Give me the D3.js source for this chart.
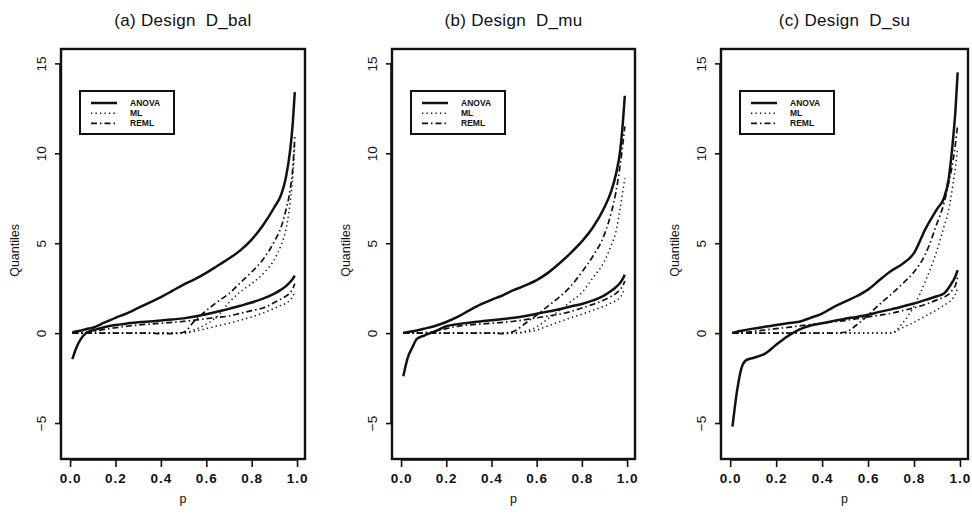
<!DOCTYPE html>
<html><head><meta charset="utf-8">
<script src="https://cdn.jsdelivr.net/npm/d3@7"></script>
<style>
html,body{margin:0;padding:0;background:#fff;}
svg{display:block;font-family:"Liberation Sans",Arial,Helvetica,sans-serif;}
.ttl{white-space:pre;}
</style></head>
<body>
<svg id="chart" width="972" height="515"></svg>
<script>
// Probability grid (x values)
const P = [0.01,0.03,0.05,0.07,0.1,0.15,0.2,0.25,0.3,0.35,0.4,0.45,0.5,0.55,0.6,0.65,0.7,0.75,0.8,0.85,0.9,0.93,0.95,0.97,0.98,0.99];

const titles = ["(a) Design  D_bal", "(b) Design  D_mu", "(c) Design  D_su"];
const seriesNames = ["ANOVA", "ML", "REML"];
const xTicks = [0.0, 0.2, 0.4, 0.6, 0.8, 1.0];
const yTicks = [-5, 0, 5, 10, 15];

// Panel (a) D_bal
const a_ANOVA_hi = [0.05,0.1,0.15,0.22,0.3,0.58,0.85,1.1,1.4,1.7,2.0,2.35,2.7,3.0,3.35,3.75,4.15,4.6,5.2,6.0,7.0,7.7,8.6,10.2,11.5,13.4];
const a_ANOVA_lo = [-1.45,-0.75,-0.28,0.0,0.15,0.33,0.45,0.53,0.6,0.65,0.7,0.76,0.82,0.92,1.05,1.2,1.35,1.52,1.7,1.92,2.2,2.42,2.6,2.85,3.0,3.2];
const a_ML_hi    = [0,0,0,0,0,0,0,0,0,0,0,0,0,0.2,0.5,0.95,1.7,2.3,2.75,3.3,4.1,4.9,5.7,7.3,8.5,10.6];
const a_ML_lo    = [0,0,0,0,0,0,0,0,0,0,0,0,0,0.1,0.25,0.4,0.55,0.72,0.9,1.12,1.38,1.55,1.65,1.85,2.0,2.3];
const a_REML_hi  = [0,0,0,0,0,0,0,0,0,0,-0.03,-0.03,0.05,0.7,1.25,1.75,2.2,2.8,3.4,4.1,5.1,5.9,6.8,8.0,9.0,10.9];
const a_REML_lo  = [0,0,0.02,0.05,0.1,0.2,0.3,0.38,0.45,0.5,0.55,0.6,0.65,0.72,0.8,0.88,0.95,1.1,1.25,1.4,1.7,1.9,2.05,2.25,2.45,2.75];

// Panel (b) D_mu
const b_ANOVA_hi = [0.02,0.06,0.1,0.15,0.24,0.4,0.62,0.9,1.25,1.58,1.85,2.1,2.4,2.65,2.95,3.35,3.87,4.45,5.1,5.9,7.0,7.9,8.8,10.2,11.5,13.2];
const b_ANOVA_lo = [-2.4,-1.35,-0.8,-0.32,-0.15,0.1,0.38,0.5,0.58,0.65,0.72,0.78,0.85,0.95,1.08,1.2,1.33,1.48,1.62,1.82,2.1,2.35,2.55,2.8,3.0,3.25];
const b_ML_hi    = [0,0,0,0,0,0,0,0,0,0,0,0,0,0.1,0.35,0.8,1.25,1.75,2.25,3.1,4.0,4.9,5.6,7.0,7.8,8.6];
const b_ML_lo    = [0,0,0,0,0,0,0,0,0,0,0,0,0,0.05,0.17,0.4,0.63,0.85,1.05,1.28,1.5,1.68,1.8,2.0,2.2,2.5];
const b_REML_hi  = [0,0,0,0,0,0,0,0,0,0,0,-0.03,0.1,0.55,1.0,1.5,2.0,2.6,3.4,4.3,5.5,6.7,7.8,9.4,10.4,11.5];
const b_REML_lo  = [0,0,0,0,0.02,0.1,0.25,0.38,0.45,0.5,0.55,0.6,0.66,0.75,0.85,0.95,1.05,1.2,1.4,1.6,1.85,2.05,2.2,2.45,2.6,2.9];

// Panel (c) D_su
const c_ANOVA_hi = [0.02,0.08,0.13,0.18,0.25,0.35,0.45,0.55,0.63,0.85,1.09,1.45,1.75,2.05,2.42,2.95,3.45,3.85,4.45,5.8,6.9,7.5,8.5,10.8,12.3,14.5];
const c_ANOVA_lo = [-5.2,-3.2,-1.9,-1.5,-1.38,-1.15,-0.65,-0.17,0.2,0.42,0.55,0.68,0.8,0.9,1.02,1.18,1.32,1.48,1.65,1.85,2.05,2.2,2.5,2.9,3.15,3.5];
const c_ML_hi    = [0,0,0,0,0,0,0,0,0,0,0,0,0,0,0,0,0,0.55,1.5,2.9,4.6,5.9,6.8,8.3,9.2,10.3];
const c_ML_lo    = [0,0,0,0,0,0,0,0,0,0,0,0,0,0,0,0,0,0.3,0.6,0.95,1.3,1.55,1.7,1.95,2.15,2.5];
const c_REML_hi  = [0,0,0,0,0,0,0,0,0,0,0,0,0.05,0.45,1.0,1.6,2.15,2.75,3.4,4.4,6.1,7.2,8.3,9.6,10.5,11.6];
const c_REML_lo  = [0,0,0.02,0.05,0.1,0.17,0.25,0.32,0.4,0.48,0.55,0.63,0.7,0.8,0.9,1.0,1.1,1.25,1.4,1.6,1.85,2.0,2.15,2.45,2.65,3.1];

const panels = [
  {title: titles[0], box:{l:61,r:305,t:49,b:459},
   series:{ANOVA:[a_ANOVA_hi,a_ANOVA_lo], ML:[a_ML_hi,a_ML_lo], REML:[a_REML_hi,a_REML_lo]}},
  {title: titles[1], box:{l:392,r:635,t:49,b:459},
   series:{ANOVA:[b_ANOVA_hi,b_ANOVA_lo], ML:[b_ML_hi,b_ML_lo], REML:[b_REML_hi,b_REML_lo]}},
  {title: titles[2], box:{l:721,r:968,t:49,b:459},
   series:{ANOVA:[c_ANOVA_hi,c_ANOVA_lo], ML:[c_ML_hi,c_ML_lo], REML:[c_REML_hi,c_REML_lo]}}
];

const styles = {
  ANOVA: {w:2.5, dash:null},
  ML:    {w:1.5, dash:"1.3,3.2"},
  REML:  {w:1.7, dash:"6,3,1.5,3"}
};

const ink = "#111";
const svg = d3.select("#chart");

panels.forEach(pn => {
  const B = pn.box;
  const x = d3.scaleLinear().domain([-0.04, 1.035]).range([B.l, B.r]);
  const y = d3.scaleLinear().domain([-7.0, 15.8]).range([B.b, B.t]);
  const g = svg.append("g");

  // title
  g.append("text").attr("class","ttl").attr("x", (B.l+B.r)/2).attr("y", 26)
    .attr("text-anchor","middle").attr("font-size",17).attr("letter-spacing",0.3)
    .attr("fill",ink).text(pn.title);

  // lines
  const line = d3.line().x((d,i)=>x(P[i])).y(d=>y(d)).curve(d3.curveMonotoneX);
  ["ML","REML","ANOVA"].forEach(name => {
    pn.series[name].forEach(arr => {
      g.append("path").attr("d", line(arr)).attr("fill","none")
        .attr("stroke",ink).attr("stroke-width",styles[name].w)
        .attr("stroke-dasharray",styles[name].dash)
        .attr("stroke-linejoin","round");
    });
  });

  // box
  g.append("rect").attr("x",B.l).attr("y",B.t).attr("width",B.r-B.l).attr("height",B.b-B.t)
    .attr("fill","none").attr("stroke",ink).attr("stroke-width",2.4);

  // x axis
  const xa = g.append("g").attr("transform",`translate(0,${B.b+1})`)
    .call(d3.axisBottom(x).tickValues(xTicks).tickFormat(d3.format(".1f")).tickSize(7).tickSizeOuter(0).tickPadding(6));
  xa.select(".domain").attr("stroke",ink).attr("stroke-width",1.6)
    .attr("d", `M${x(0)},0H${x(1)}`);
  xa.selectAll(".tick line").attr("stroke",ink).attr("stroke-width",1.6);
  xa.selectAll(".tick text").attr("font-size",13.5).attr("font-weight","bold")
    .attr("letter-spacing",1).attr("fill",ink).attr("font-family","'Liberation Sans',Arial,sans-serif");

  // y axis
  const ya = g.append("g").attr("transform",`translate(${B.l-1},0)`)
    .call(d3.axisLeft(y).tickValues(yTicks).tickSize(5).tickSizeOuter(0).tickPadding(0).tickFormat(d3.format("d")));
  ya.select(".domain").attr("stroke",ink).attr("stroke-width",1.6)
    .attr("d", `M0,${y(-5)}V${y(15)}`);
  ya.selectAll(".tick line").attr("stroke",ink).attr("stroke-width",1.6);
  ya.selectAll(".tick text")
    .attr("x",0).attr("dy",null).attr("text-anchor","middle")
    .attr("transform","translate(-14,0) rotate(-90)")
    .attr("font-size",13.5).attr("fill",ink).attr("font-family","'Liberation Sans',Arial,sans-serif");

  // axis labels
  g.append("text").attr("x",(B.l+B.r)/2).attr("y",503).attr("text-anchor","middle")
    .attr("font-size",12.5).attr("fill",ink).text("p");
  g.append("text").attr("transform",`translate(${B.l-42},${y(4.6)}) rotate(-90)`)
    .attr("text-anchor","middle").attr("font-size",12.5).attr("fill",ink).text("Quantiles");

  // legend
  const lx = B.l + 19, ly = 91, lw = 94, lh = 43;
  const lg = g.append("g");
  lg.append("rect").attr("x",lx).attr("y",ly).attr("width",lw).attr("height",lh)
    .attr("fill","#fff").attr("stroke",ink).attr("stroke-width",2);
  seriesNames.forEach((name,i) => {
    const yy = ly + 12 + i*10.2;
    lg.append("line").attr("x1",lx+11).attr("x2",lx+37).attr("y1",yy).attr("y2",yy)
      .attr("stroke",ink).attr("stroke-width",styles[name].w)
      .attr("stroke-dasharray",styles[name].dash);
    lg.append("text").attr("x",lx+50).attr("y",yy+3).attr("font-size",8.5)
      .attr("font-weight","bold").attr("fill",ink).text(name);
  });
});
</script>
</body></html>
